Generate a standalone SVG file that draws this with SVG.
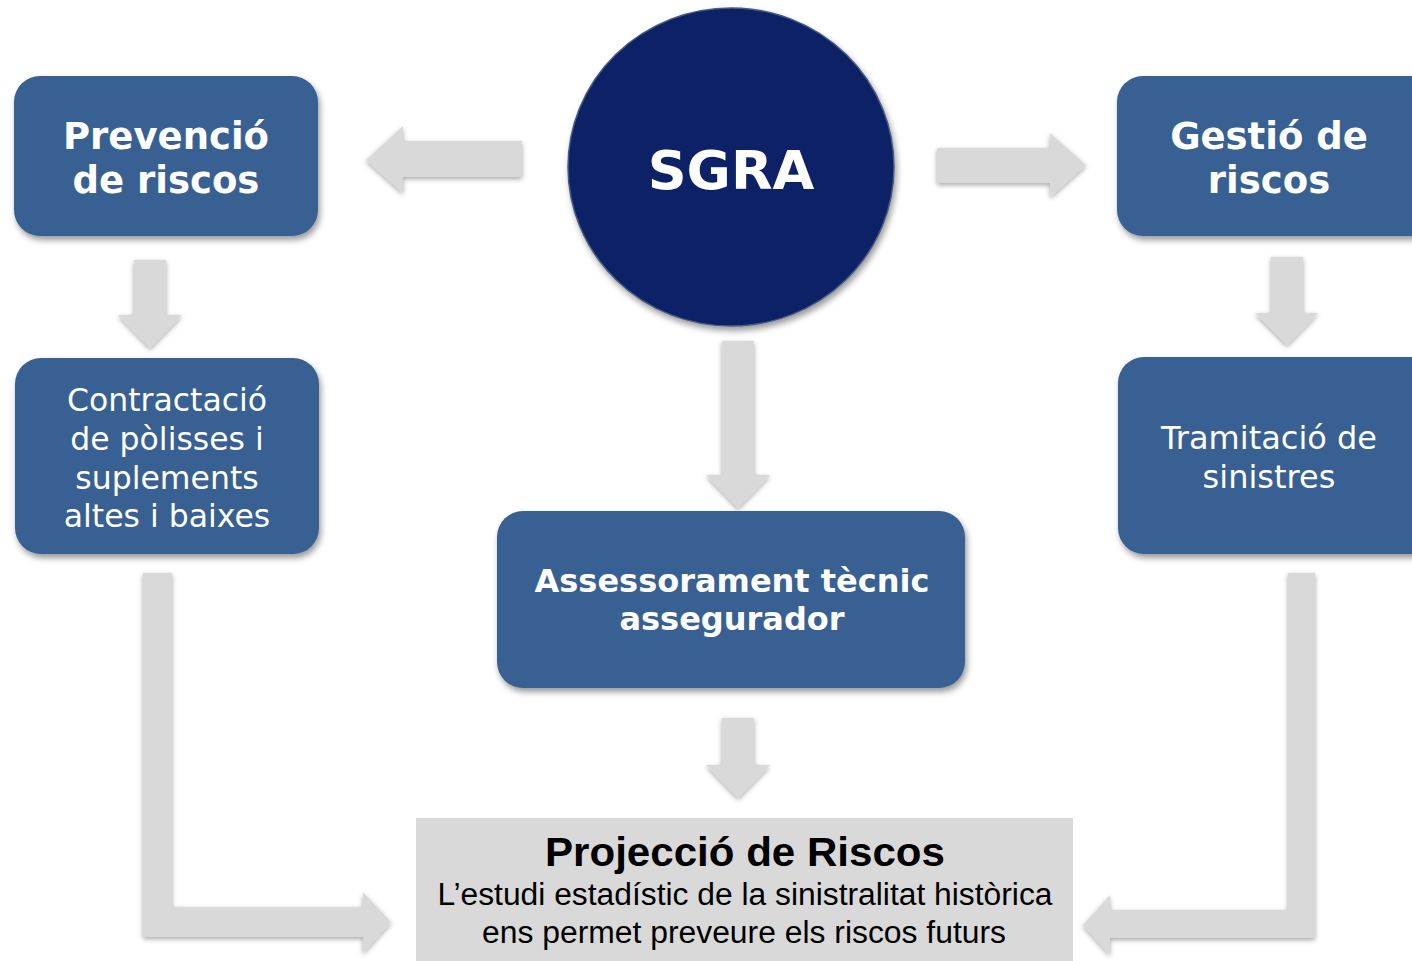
<svg xmlns="http://www.w3.org/2000/svg" width="1412" height="961" viewBox="0 0 1412 961">
<defs>
<filter id="sh" x="-20%" y="-20%" width="140%" height="140%">
<feDropShadow dx="2" dy="4" stdDeviation="3" flood-color="#000" flood-opacity="0.4"/>
</filter>
<filter id="ash" x="-20%" y="-20%" width="140%" height="140%">
<feDropShadow dx="0" dy="2" stdDeviation="2.5" flood-color="#000" flood-opacity="0.35"/>
</filter>
<style>
.box{fill:#376092;filter:url(#sh)}
.arr{fill:#d9d9d9;filter:url(#ash)}
.tb{font-family:"DejaVu Sans",Verdana,sans-serif;font-weight:bold;fill:#fff;text-anchor:middle}
.tn{font-family:"DejaVu Sans",Verdana,sans-serif;fill:#fff;text-anchor:middle}
.pj{font-family:"Liberation Sans",Arial,sans-serif;fill:#000;text-anchor:middle}
</style>
</defs>
<rect width="1412" height="961" fill="#fff"/>
<g id="connectors">
<path class="arr" d="M522,141 L403,141 L403,126 L366,160 L403,193 L403,177 L522,177 Z"/>
<path class="arr" d="M937,148 L1050,148 L1050,133 L1086,165 L1050,197 L1050,183 L937,183 Z"/>
<path class="arr" d="M134,260 L166,260 L166,315 L182,315 L150,348 L118,315 L134,315 Z"/>
<path class="arr" d="M1271,257 L1303,257 L1303,313 L1318,313 L1287,345 L1255,313 L1271,313 Z"/>
<path class="arr" d="M722,341 L754,341 L754,475 L770,475 L738,508 L706,475 L722,475 Z"/>
<path class="arr" d="M722,718 L754,718 L754,765 L770,765 L738,798 L706,765 L722,765 Z"/>
<path class="arr" d="M143,573 L172,573 L172,907 L363,907 L363,892 L391,922 L363,953 L363,937 L143,937 Z"/>
<path class="arr" d="M1288,573 L1315,573 L1315,938 L1110,938 L1110,955 L1083,925 L1110,895 L1110,910 L1288,910 Z"/>
</g>
<g id="sgra">
<ellipse cx="731" cy="167" rx="163" ry="159" fill="#082466" stroke="#4a5a80" stroke-width="1.5" filter="url(#sh)"/>
<text class="tb" x="731" y="189" font-size="54">SGRA</text>
</g>
<g id="prevencio">
<rect class="box" x="14" y="76" width="304" height="160" rx="26"/>
<text class="tb" x="166" y="149" font-size="37">Prevenció</text>
<text class="tb" x="166" y="193" font-size="37">de riscos</text>
</g>
<g id="gestio">
<rect class="box" x="1117" y="76" width="320" height="160" rx="26"/>
<text class="tb" x="1269" y="149" font-size="37">Gestió de</text>
<text class="tb" x="1269" y="193" font-size="37">riscos</text>
</g>
<g id="contractacio">
<rect class="box" x="15" y="358" width="304" height="196" rx="26"/>
<text class="tn" x="167" y="411" font-size="31.5">Contractació</text>
<text class="tn" x="167" y="450" font-size="31.5">de pòlisses i</text>
<text class="tn" x="167" y="489" font-size="31.5">suplements</text>
<text class="tn" x="167" y="527" font-size="31.5">altes i baixes</text>
</g>
<g id="tramitacio">
<rect class="box" x="1118" y="357" width="320" height="197" rx="26"/>
<text class="tn" x="1269" y="449" font-size="32">Tramitació de</text>
<text class="tn" x="1269" y="488" font-size="32">sinistres</text>
</g>
<g id="assessorament">
<rect class="box" x="497" y="511" width="468" height="177" rx="26"/>
<text class="tb" x="732" y="592" font-size="32">Assessorament tècnic</text>
<text class="tb" x="732" y="630" font-size="32">assegurador</text>
</g>
<g id="projeccio">
<rect x="416" y="818" width="657" height="160" fill="#d9d9d9"/>
<text class="pj" x="745" y="866" font-size="41" font-weight="bold" textLength="400" lengthAdjust="spacingAndGlyphs">Projecció de Riscos</text>
<text class="pj" x="745" y="905" font-size="31" textLength="615" lengthAdjust="spacingAndGlyphs">L’estudi estadístic de la sinistralitat històrica</text>
<text class="pj" x="744" y="943" font-size="31" textLength="524" lengthAdjust="spacingAndGlyphs">ens permet preveure els riscos futurs</text>
</g>
</svg>
